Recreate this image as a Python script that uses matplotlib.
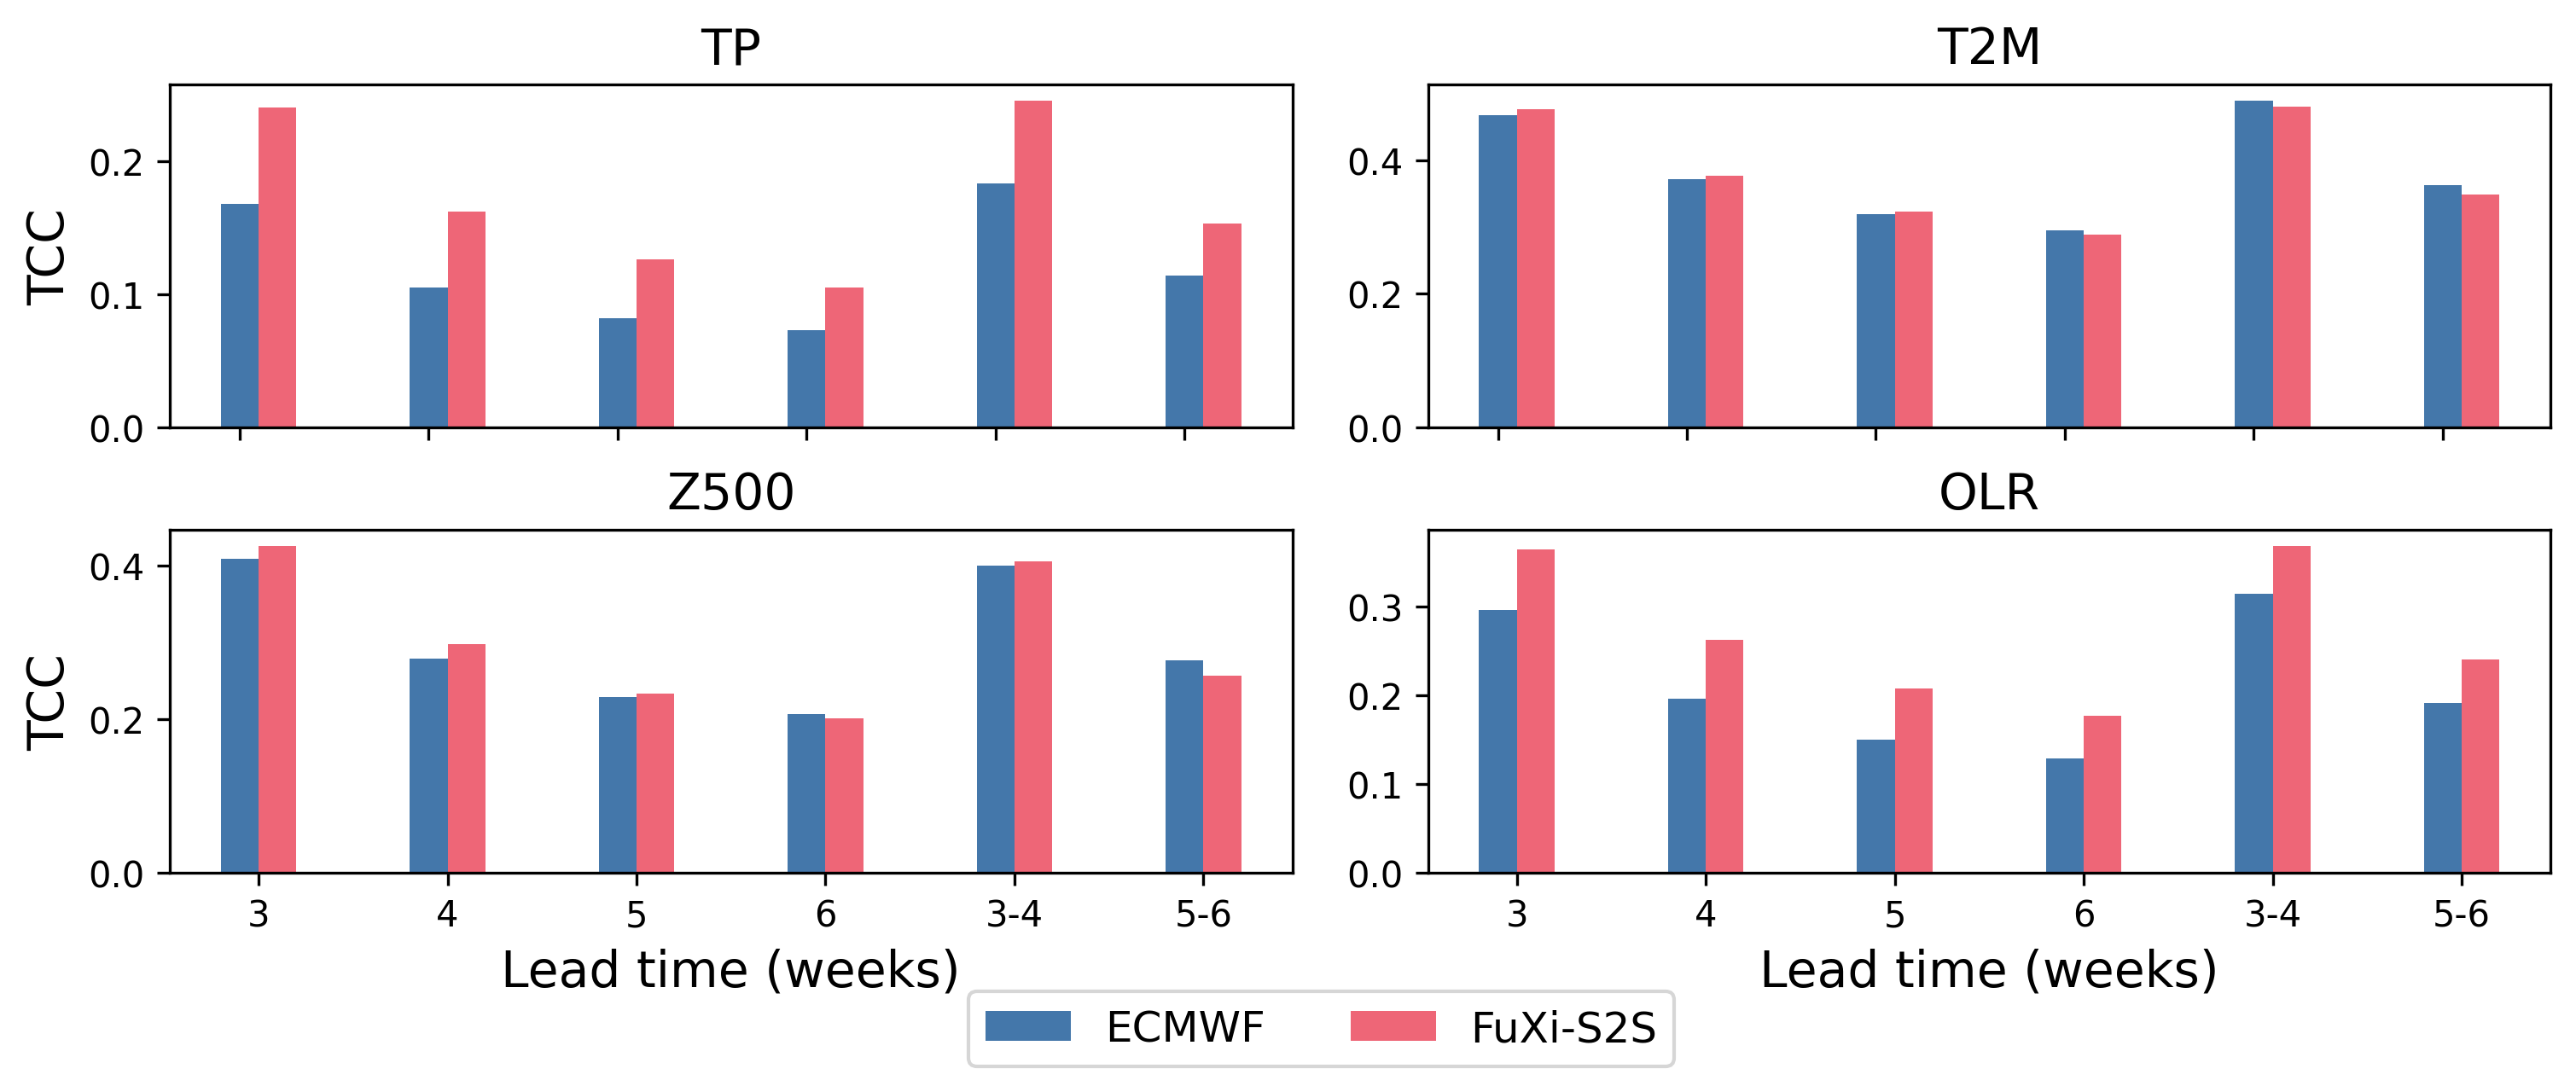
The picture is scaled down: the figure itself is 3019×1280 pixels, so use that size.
import numpy as np
import matplotlib
matplotlib.use("Agg")
import matplotlib.pyplot as plt

categories = ["3", "4", "5", "6", "3-4", "5-6"]
variables = ["TP", "T2M", "Z500", "OLR"]
models = ["ECMWF", "FuXi-S2S"]

ecmwf_tp = [0.168, 0.105, 0.082, 0.073, 0.183, 0.114]
fuxi_tp = [0.240, 0.162, 0.126, 0.105, 0.245, 0.153]
ecmwf_t2m = [0.468, 0.372, 0.320, 0.295, 0.489, 0.363]
fuxi_t2m = [0.476, 0.377, 0.323, 0.289, 0.480, 0.349]
ecmwf_z500 = [0.408, 0.279, 0.229, 0.207, 0.400, 0.277]
fuxi_z500 = [0.425, 0.298, 0.233, 0.201, 0.405, 0.256]
ecmwf_olr = [0.296, 0.196, 0.150, 0.129, 0.314, 0.191]
fuxi_olr = [0.364, 0.262, 0.208, 0.177, 0.368, 0.240]

ecmwf_vals = [ecmwf_tp, ecmwf_t2m, ecmwf_z500, ecmwf_olr]
fuxi_vals = [fuxi_tp, fuxi_t2m, fuxi_z500, fuxi_olr]

colors = ["#4477AA", "#EE6677"]

fig, axes = plt.subplots(2, 2, figsize=(3019 / 300, 1281 / 300), dpi=300)
fig.subplots_adjust(left=0.0659, right=0.9901, top=0.9219, bottom=0.2006,
                    wspace=0.1209, hspace=0.2985)

x = np.arange(len(categories))
width = 0.2

for i, ax in enumerate(axes.flat):
    b1 = ax.bar(x, ecmwf_vals[i], width, color=colors[0], label=models[0])
    b2 = ax.bar(x + width, fuxi_vals[i], width, color=colors[1], label=models[1])
    ax.set_title(variables[i], fontsize=14)
    ax.tick_params(axis="both", labelsize=10)
    row, col = divmod(i, 2)
    if row == 0:
        ax.set_xticks(x)
        ax.set_xticklabels([])
    else:
        ax.set_xticks(x + width / 2)
        ax.set_xticklabels(categories)
        ax.set_xlabel("Lead time (weeks)", fontsize=14)
    if col == 0:
        ax.set_ylabel("TCC", fontsize=14)

handles, labels = axes[0, 0].get_legend_handles_labels()
fig.legend(handles, labels, loc="upper center", ncol=2, fontsize=12,
           bbox_to_anchor=(0.513, 0.0921), borderaxespad=0)

fig.savefig("out.png", dpi=300)
